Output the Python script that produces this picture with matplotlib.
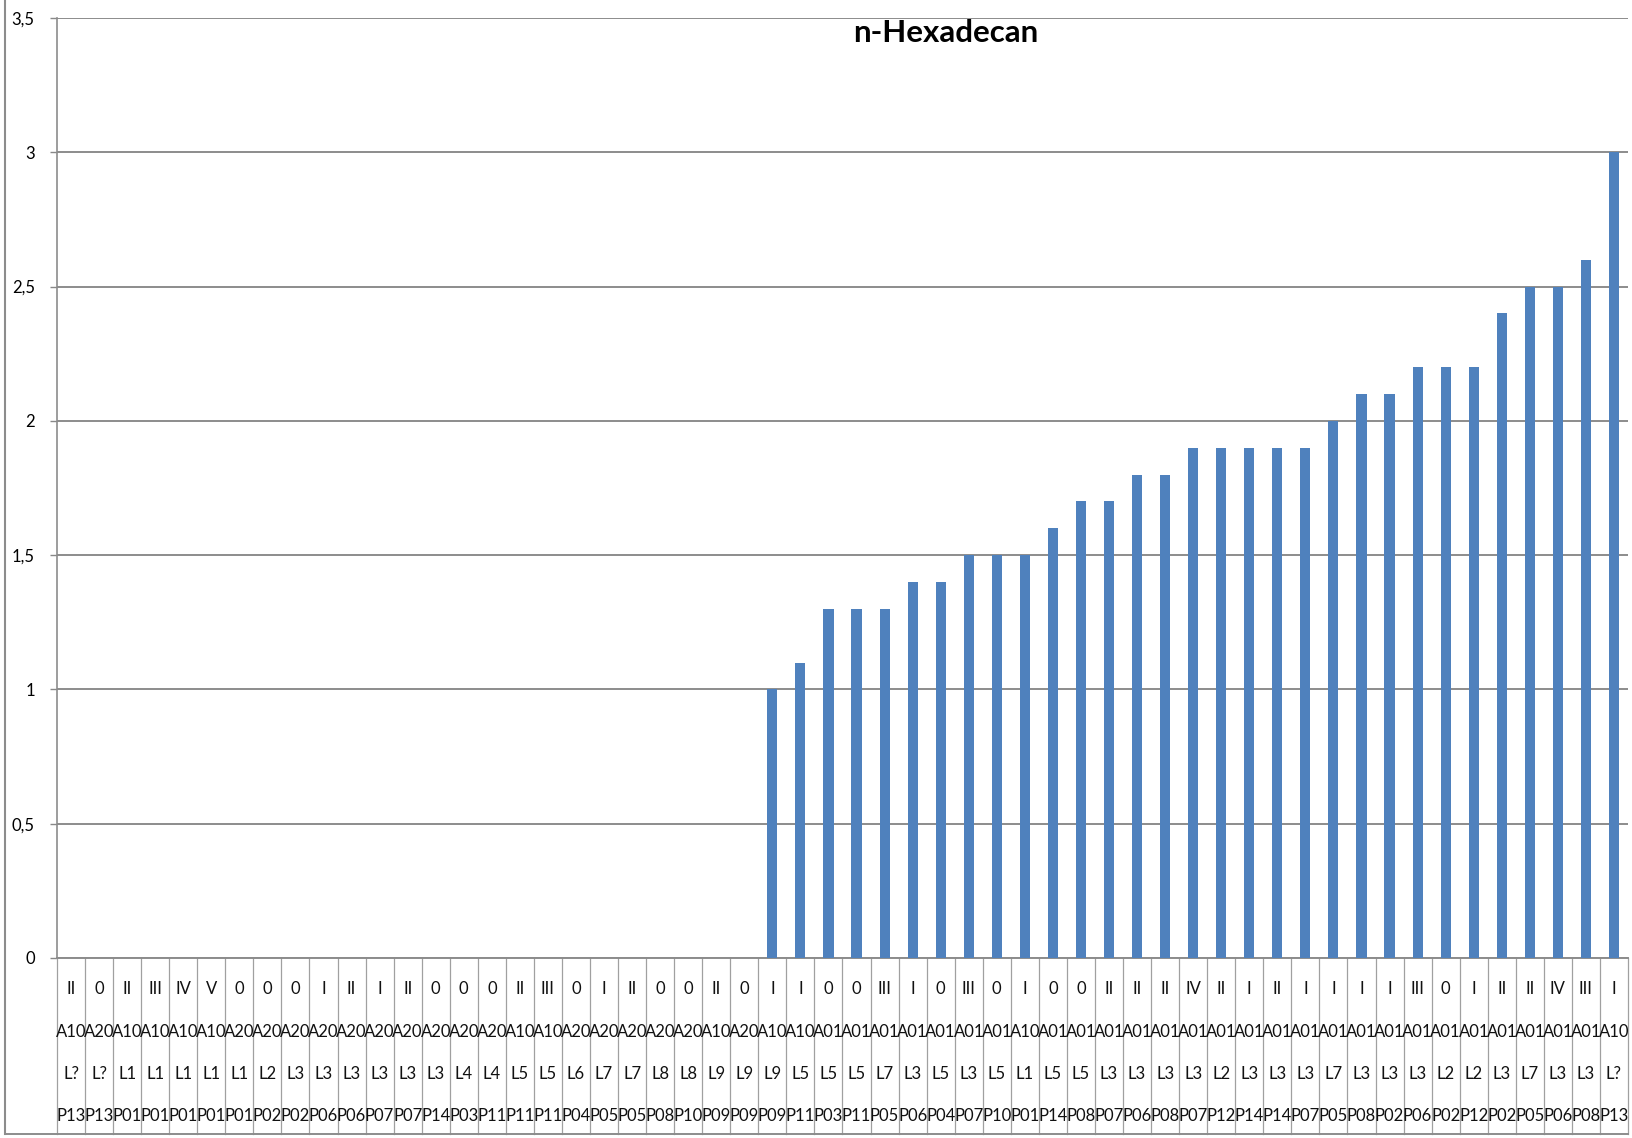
import matplotlib.pyplot as plt
import matplotlib.lines as mlines

# data ------------------------------------------------
grades = ["II", "0", "II", "III", "IV", "V", "0", "0", "0", "I", "II", "I", "II", "0",
          "0", "0", "II", "III", "0", "I", "II", "0", "0", "II", "0", "I", "I", "0",
          "0", "III", "I", "0", "III", "0", "I", "0", "0", "II", "II", "II", "IV", "II",
          "I", "II", "I", "I", "I", "I", "III", "0", "I", "II", "II", "IV", "III", "I"]
areas = ["A10", "A20", "A10", "A10", "A10", "A10", "A20", "A20", "A20", "A20", "A20", "A20", "A20", "A20",
         "A20", "A20", "A10", "A10", "A20", "A20", "A20", "A20", "A20", "A10", "A20", "A10", "A10", "A01",
         "A01", "A01", "A01", "A01", "A01", "A01", "A10", "A01", "A01", "A01", "A01", "A01", "A01", "A01",
         "A01", "A01", "A01", "A01", "A01", "A01", "A01", "A01", "A01", "A01", "A01", "A01", "A01", "A10"]
layers = ["L?", "L?", "L1", "L1", "L1", "L1", "L1", "L2", "L3", "L3", "L3", "L3", "L3", "L3",
          "L4", "L4", "L5", "L5", "L6", "L7", "L7", "L8", "L8", "L9", "L9", "L9", "L5", "L5",
          "L5", "L7", "L3", "L5", "L3", "L5", "L1", "L5", "L5", "L3", "L3", "L3", "L3", "L2",
          "L3", "L3", "L3", "L7", "L3", "L3", "L3", "L2", "L2", "L3", "L7", "L3", "L3", "L?"]
points = ["P13", "P13", "P01", "P01", "P01", "P01", "P01", "P02", "P02", "P06", "P06", "P07", "P07", "P14",
          "P03", "P11", "P11", "P11", "P04", "P05", "P05", "P08", "P10", "P09", "P09", "P09", "P11", "P03",
          "P11", "P05", "P06", "P04", "P07", "P10", "P01", "P14", "P08", "P07", "P06", "P08", "P07", "P12",
          "P14", "P14", "P07", "P05", "P08", "P02", "P06", "P02", "P12", "P02", "P05", "P06", "P08", "P13"]
values = [0] * 25 + [1.0, 1.1, 1.3, 1.3, 1.3, 1.4, 1.4, 1.5, 1.5, 1.5, 1.6, 1.7, 1.7, 1.8, 1.8,
                     1.9, 1.9, 1.9, 1.9, 1.9, 2.0, 2.1, 2.1, 2.2, 2.2, 2.2, 2.4, 2.5, 2.5, 2.6, 3.0]
yticks = [0, 0.5, 1, 1.5, 2, 2.5, 3, 3.5]

plt.rcParams['font.family'] = ['Lato', 'DejaVu Sans']

W, H = 1633, 1138
fig = plt.figure(figsize=(W / 100, H / 100), dpi=100)

# axes box in pixels
left, right, top, bottom = 57, 1628, 18, 958
ax = fig.add_axes([left / W, 1 - bottom / H, (right - left) / W, (bottom - top) / H])

n = len(values)
x = list(range(n))
ax.bar(x, values, width=0.36, color="#4F81BD", zorder=3)

ax.set_xlim(-0.5, n - 0.5)
ax.set_ylim(0, 3.5)
ax.set_yticks(yticks)
ax.set_yticklabels([str(t).replace(".", ",").replace(",0", "") if t != 0 else "0" for t in yticks],
                   fontsize=12)
ax.set_xticks([])
ax.tick_params(axis="y", length=5, width=1, color="#888888", pad=11)
ax.yaxis.grid(True, color="#8c8c8c", linewidth=1.4, zorder=0)

for s in ["top", "right"]:
    ax.spines[s].set_visible(False)
ax.spines["left"].set_color("#8c8c8c")
ax.spines["bottom"].set_color("#8c8c8c")
ax.spines["left"].set_linewidth(1.2)
ax.spines["bottom"].set_linewidth(1.4)

# category table under the axis
ax_h = bottom - top
tbl_bottom = -(1134 - bottom) / ax_h
trans = ax.get_xaxis_transform()
for i in range(n + 1):
    ax.plot([i - 0.5, i - 0.5], [0, tbl_bottom], transform=trans, color="#a0a0a0",
            linewidth=0.9, clip_on=False)
rows = [grades, areas, layers, points]
row_y = [989, 1032, 1074, 1116]
for labels, yy in zip(rows, row_y):
    for i, lab in enumerate(labels):
        ax.text(i, -(yy - bottom) / ax_h, lab, transform=trans, ha="center", va="center",
                fontsize=12, color="#111111")

# outer chart frame (left and bottom visible)
fig.add_artist(mlines.Line2D([5.5 / W, 5.5 / W], [1 - 1134 / H, 1], color="#8c8c8c", linewidth=1.5))
fig.add_artist(mlines.Line2D([5 / W, right / W], [1 - 1134 / H, 1 - 1134 / H], color="#8c8c8c",
                             linewidth=1.4))

fig.text(946 / W, 1 - 33 / H, "n-Hexadecan", ha="center", va="center", fontsize=22.5,
         fontweight="bold")

fig.savefig("out.png", dpi=100)
